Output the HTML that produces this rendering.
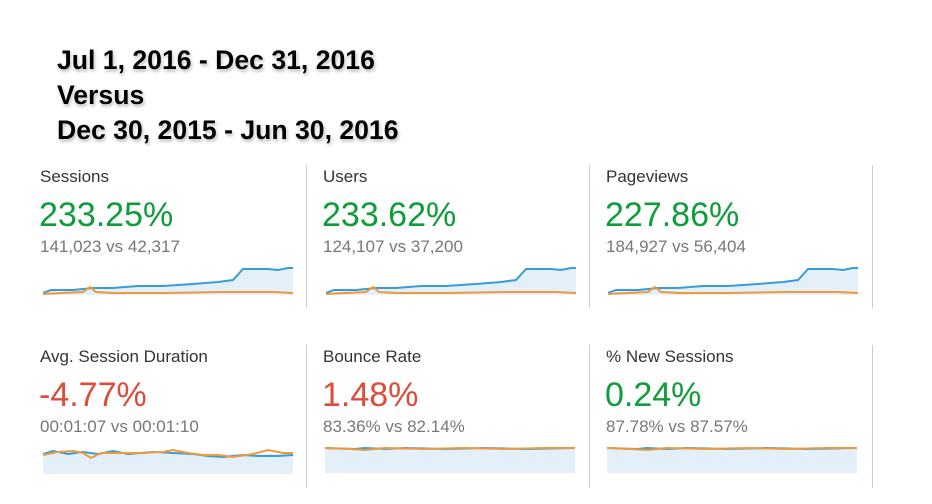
<!DOCTYPE html>
<html><head><meta charset="utf-8"><style>
body{margin:0;width:932px;height:504px;background:#fff;position:relative;overflow:hidden;font-family:"Liberation Sans",sans-serif}
.t{position:absolute;left:57px;font-weight:bold;font-size:26.6px;color:#000;text-shadow:0 0 3px #fff,1px 2px 3px rgba(0,0,0,.35)}
.lab{position:absolute;font-size:17px;color:#333}
.pct{position:absolute;font-size:34px;}
.g{color:#0f9d3a}.r{color:#dd4b39}
.sub{position:absolute;font-size:17px;color:#777}
.div{position:absolute;width:1px;background:#ccc}
svg{position:absolute}
</style></head><body>
<div class="t" style="top:45px">Jul 1, 2016 - Dec 31, 2016</div>
<div class="t" style="top:80px">Versus</div>
<div class="t" style="top:115px">Dec 30, 2015 - Jun 30, 2016</div>

<div class="div" style="left:306px;top:165px;height:143px"></div>
<div class="div" style="left:589px;top:165px;height:143px"></div>
<div class="div" style="left:872px;top:165px;height:143px"></div>
<div class="div" style="left:306px;top:345px;height:143px"></div>
<div class="div" style="left:589px;top:345px;height:143px"></div>
<div class="div" style="left:872px;top:345px;height:143px"></div>

<div class="lab" style="left:40px;top:167px">Sessions</div>
<div class="pct g" style="left:39px;top:196px">233.25%</div>
<div class="sub" style="left:40px;top:237px">141,023 vs 42,317</div>
<div class="lab" style="left:323px;top:167px">Users</div>
<div class="pct g" style="left:322px;top:196px">233.62%</div>
<div class="sub" style="left:323px;top:237px">124,107 vs 37,200</div>
<div class="lab" style="left:606px;top:167px">Pageviews</div>
<div class="pct g" style="left:605px;top:196px">227.86%</div>
<div class="sub" style="left:606px;top:237px">184,927 vs 56,404</div>

<div class="lab" style="left:40px;top:347px">Avg. Session Duration</div>
<div class="pct r" style="left:39px;top:376px">-4.77%</div>
<div class="sub" style="left:40px;top:417px">00:01:07 vs 00:01:10</div>
<div class="lab" style="left:323px;top:347px">Bounce Rate</div>
<div class="pct r" style="left:322px;top:376px">1.48%</div>
<div class="sub" style="left:323px;top:417px">83.36% vs 82.14%</div>
<div class="lab" style="left:606px;top:347px">% New Sessions</div>
<div class="pct g" style="left:605px;top:376px">0.24%</div>
<div class="sub" style="left:606px;top:417px">87.78% vs 87.57%</div>

<svg width="0" height="0"><defs>
<g id="grow">
<path d="M0,31 L8,28 L30,28 L50,26 L70,26 L95,24 L120,24 L150,22 L175,20 L190,18 L200,7 L225,7 L235,8 L245,6 L250,6 L250,33 L0,33Z" fill="#e3f0fa"/>
<polyline points="0,31 8,28 30,28 50,26 70,26 95,24 120,24 150,22 175,20 190,18 200,7 225,7 235,8 245,6 250,6" fill="none" stroke="#3a9bd9" stroke-width="2"/>
<polyline points="0,32 20,31 40,30 47,25 53,30 70,31 120,31 180,30 230,30 250,31" fill="none" stroke="#ee9a3a" stroke-width="2"/>
</g>
<g id="flat">
<path d="M0,2 L250,2 L250,27 L0,27Z" fill="#e3f0fa"/>
<polyline points="0,2 30,3 40,2 60,3 80,2 120,3 160,2 200,3 250,2" fill="none" stroke="#3a9bd9" stroke-width="2"/>
<polyline points="0,2 25,3 40,4 60,2 100,3 140,2 180,3 220,2 250,2" fill="none" stroke="#ee9a3a" stroke-width="2"/>
</g>
</defs></svg>
<svg style="left:43px;top:262px" width="250" height="34"><use href="#grow"/></svg>
<svg style="left:326px;top:262px" width="250" height="34"><use href="#grow"/></svg>
<svg style="left:608px;top:262px" width="250" height="34"><use href="#grow"/></svg>

<svg style="left:43px;top:446px" width="250" height="30">
<path d="M0,8 L250,8 L250,28 L0,28Z" fill="#e3f0fa"/>
<polyline points="0,8 10,5 25,8 40,6 55,8 70,5 85,8 110,6 130,7 150,8 165,10 180,11 200,9 215,10 235,10 250,9" fill="none" stroke="#3a9bd9" stroke-width="2"/>
<polyline points="0,9 15,6 30,5 40,7 48,12 58,7 80,7 100,7 120,6 130,4 145,7 160,9 175,9 190,11 210,8 225,4 240,7 250,7" fill="none" stroke="#ee9a3a" stroke-width="2"/>
</svg>
<svg style="left:325px;top:446px" width="250" height="30"><use href="#flat"/></svg>
<svg style="left:607px;top:446px" width="250" height="30"><use href="#flat"/></svg>
</body></html>
